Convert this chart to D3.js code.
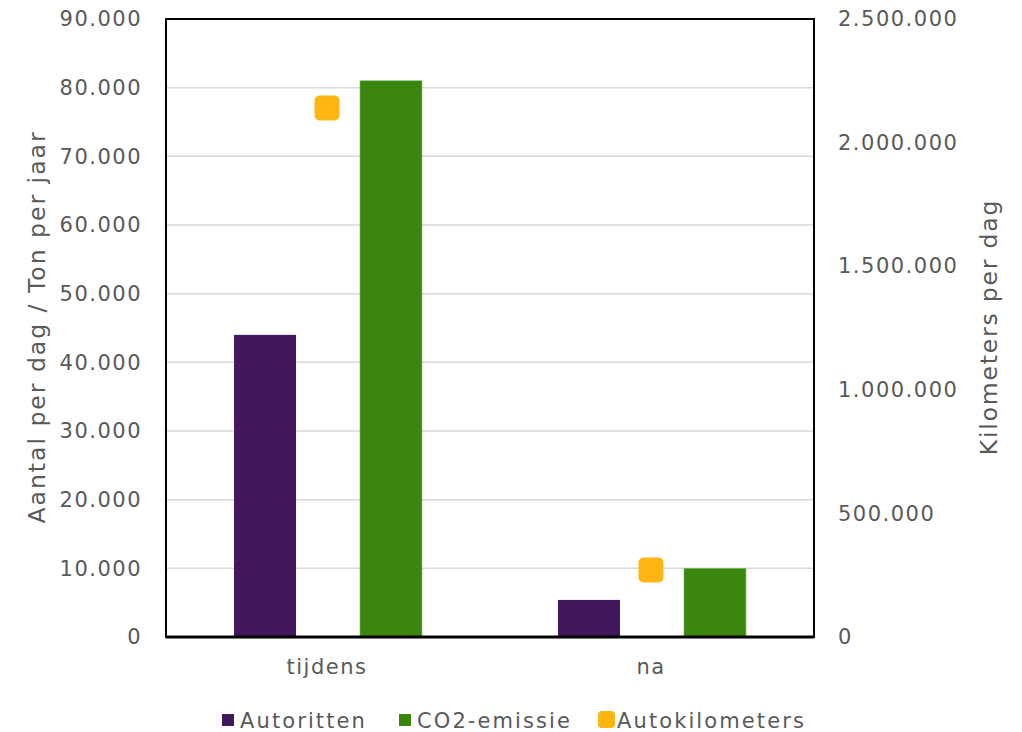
<!DOCTYPE html>
<html><head><meta charset="utf-8">
<script src="https://cdn.jsdelivr.net/npm/d3@7"></script>
<style>
html,body{margin:0;padding:0;background:#fff;}
text{font-family:"DejaVu Sans",Verdana,sans-serif;fill:#595959;}
</style></head>
<body><svg id="c" width="1022" height="732"></svg>
<script>
const categories = ["tijdens", "na"];
const autoritten = [44000, 5400];
const co2 = [81000, 10000];
const autokm = [2140000, 271000];
const leftTicks = [0,10000,20000,30000,40000,50000,60000,70000,80000,90000];
const rightTicks = [0,500000,1000000,1500000,2000000,2500000];
const seriesNames = ["Autoritten","CO2-emissie","Autokilometers"];
const colors = {"Autoritten":"#43175E","CO2-emissie":"#3A860E","Autokilometers":"#FFB612"};

const svg = d3.select("#c");
const L=166,R=814,T=19,B=637;
const fmt = v => d3.format(",")(v).replace(/,/g,".");
const x0 = d3.scaleBand().domain(categories).range([L,R]).padding(0);
const x1 = d3.scaleBand().domain(["Autoritten","Autokilometers","CO2-emissie"]).range([0,x0.bandwidth()]).paddingInner(0.016).paddingOuter(1.08);
const yL = d3.scaleLinear().domain([0,90000]).range([B,T]);
const yR = d3.scaleLinear().domain([0,2500000]).range([B,T]);

// gridlines
svg.append("g").selectAll("line").data(leftTicks.slice(1)).join("line")
  .attr("x1",L).attr("x2",R).attr("y1",d=>yL(d)).attr("y2",d=>yL(d))
  .attr("stroke","#D9D9D9").attr("stroke-width",1.5);

// bars
const data = categories.map((c,i)=>({c, a:autoritten[i], co:co2[i], km:autokm[i]}));
svg.append("g").selectAll("rect.a").data(data).join("rect")
  .attr("x",d=>x0(d.c)+x1("Autoritten")).attr("width",x1.bandwidth())
  .attr("y",d=>yL(d.a)).attr("height",d=>B-yL(d.a)).attr("fill",colors["Autoritten"]);
svg.append("g").selectAll("rect.co").data(data).join("rect")
  .attr("x",d=>x0(d.c)+x1("CO2-emissie")).attr("width",x1.bandwidth())
  .attr("y",d=>yL(d.co)).attr("height",d=>B-yL(d.co)).attr("fill",colors["CO2-emissie"])
  .attr("stroke","#7DB35A").attr("stroke-width",0.6);

// markers
const ms=25;
svg.append("g").selectAll("rect").data(data).join("rect")
  .attr("x",d=>x0(d.c)+x0.bandwidth()/2-ms/2-1).attr("y",d=>yR(d.km)-ms/2)
  .attr("width",ms).attr("height",ms).attr("rx",5).attr("fill",colors["Autokilometers"]);

// frame
svg.append("rect").attr("x",L).attr("y",T).attr("width",R-L).attr("height",B-T)
  .attr("fill","none").attr("stroke","#000").attr("stroke-width",2);
svg.append("line").attr("x1",L).attr("x2",R).attr("y1",B).attr("y2",B).attr("stroke","#000").attr("stroke-width",3);

// axes
const fs=21, ls=1.5;
const yAxisL = d3.axisLeft(yL).tickValues(leftTicks).tickFormat(fmt).tickSize(0).tickPadding(0);
const gL = svg.append("g").attr("transform",`translate(${L-24},0)`).call(yAxisL);
gL.select(".domain").remove();
gL.selectAll("text").attr("font-size",fs).attr("letter-spacing",ls).attr("fill","#595959").attr("font-family","DejaVu Sans");

const yAxisR = d3.axisRight(yR).tickValues(rightTicks).tickFormat(fmt).tickSize(0).tickPadding(0);
const gR = svg.append("g").attr("transform",`translate(${R+24},0)`).call(yAxisR);
gR.select(".domain").remove();
gR.selectAll("text").attr("font-size",fs).attr("letter-spacing",ls).attr("fill","#595959").attr("font-family","DejaVu Sans");

const xAxis = d3.axisBottom(x0).tickSize(0).tickPadding(0);
const gX = svg.append("g").attr("transform",`translate(-1,${B+22})`).call(xAxis);
gX.select(".domain").remove();
gX.selectAll("text").attr("font-size",fs).attr("letter-spacing",ls).attr("fill","#595959").attr("font-family","DejaVu Sans");

// axis titles
svg.append("text").attr("transform","translate(45,327) rotate(-90)").attr("text-anchor","middle")
  .attr("font-size",23.5).attr("letter-spacing",2).text("Aantal per dag / Ton per jaar");
svg.append("text").attr("transform","translate(997,327) rotate(-90)").attr("text-anchor","middle")
  .attr("font-size",23.5).attr("letter-spacing",1.8).text("Kilometers per dag");

// legend
const legX = [222, 399, 598];
const lg = svg.append("g");
seriesNames.forEach((s,i)=>{
  const g = lg.append("g").attr("transform",`translate(${legX[i]},720)`);
  if (s==="Autokilometers") {
    g.append("rect").attr("x",0).attr("y",-9).attr("width",17).attr("height",17).attr("rx",4).attr("fill",colors[s]);
    g.append("text").attr("x",19).attr("y",0).attr("dy","0.36em").attr("font-size",fs).attr("letter-spacing",2.1).text(s);
  } else {
    g.append("rect").attr("x",0).attr("y",-6).attr("width",12).attr("height",12).attr("fill",colors[s]);
    g.append("text").attr("x",18).attr("y",0).attr("dy","0.36em").attr("font-size",fs).attr("letter-spacing",2.1).text(s);
  }
});
</script></body></html>
